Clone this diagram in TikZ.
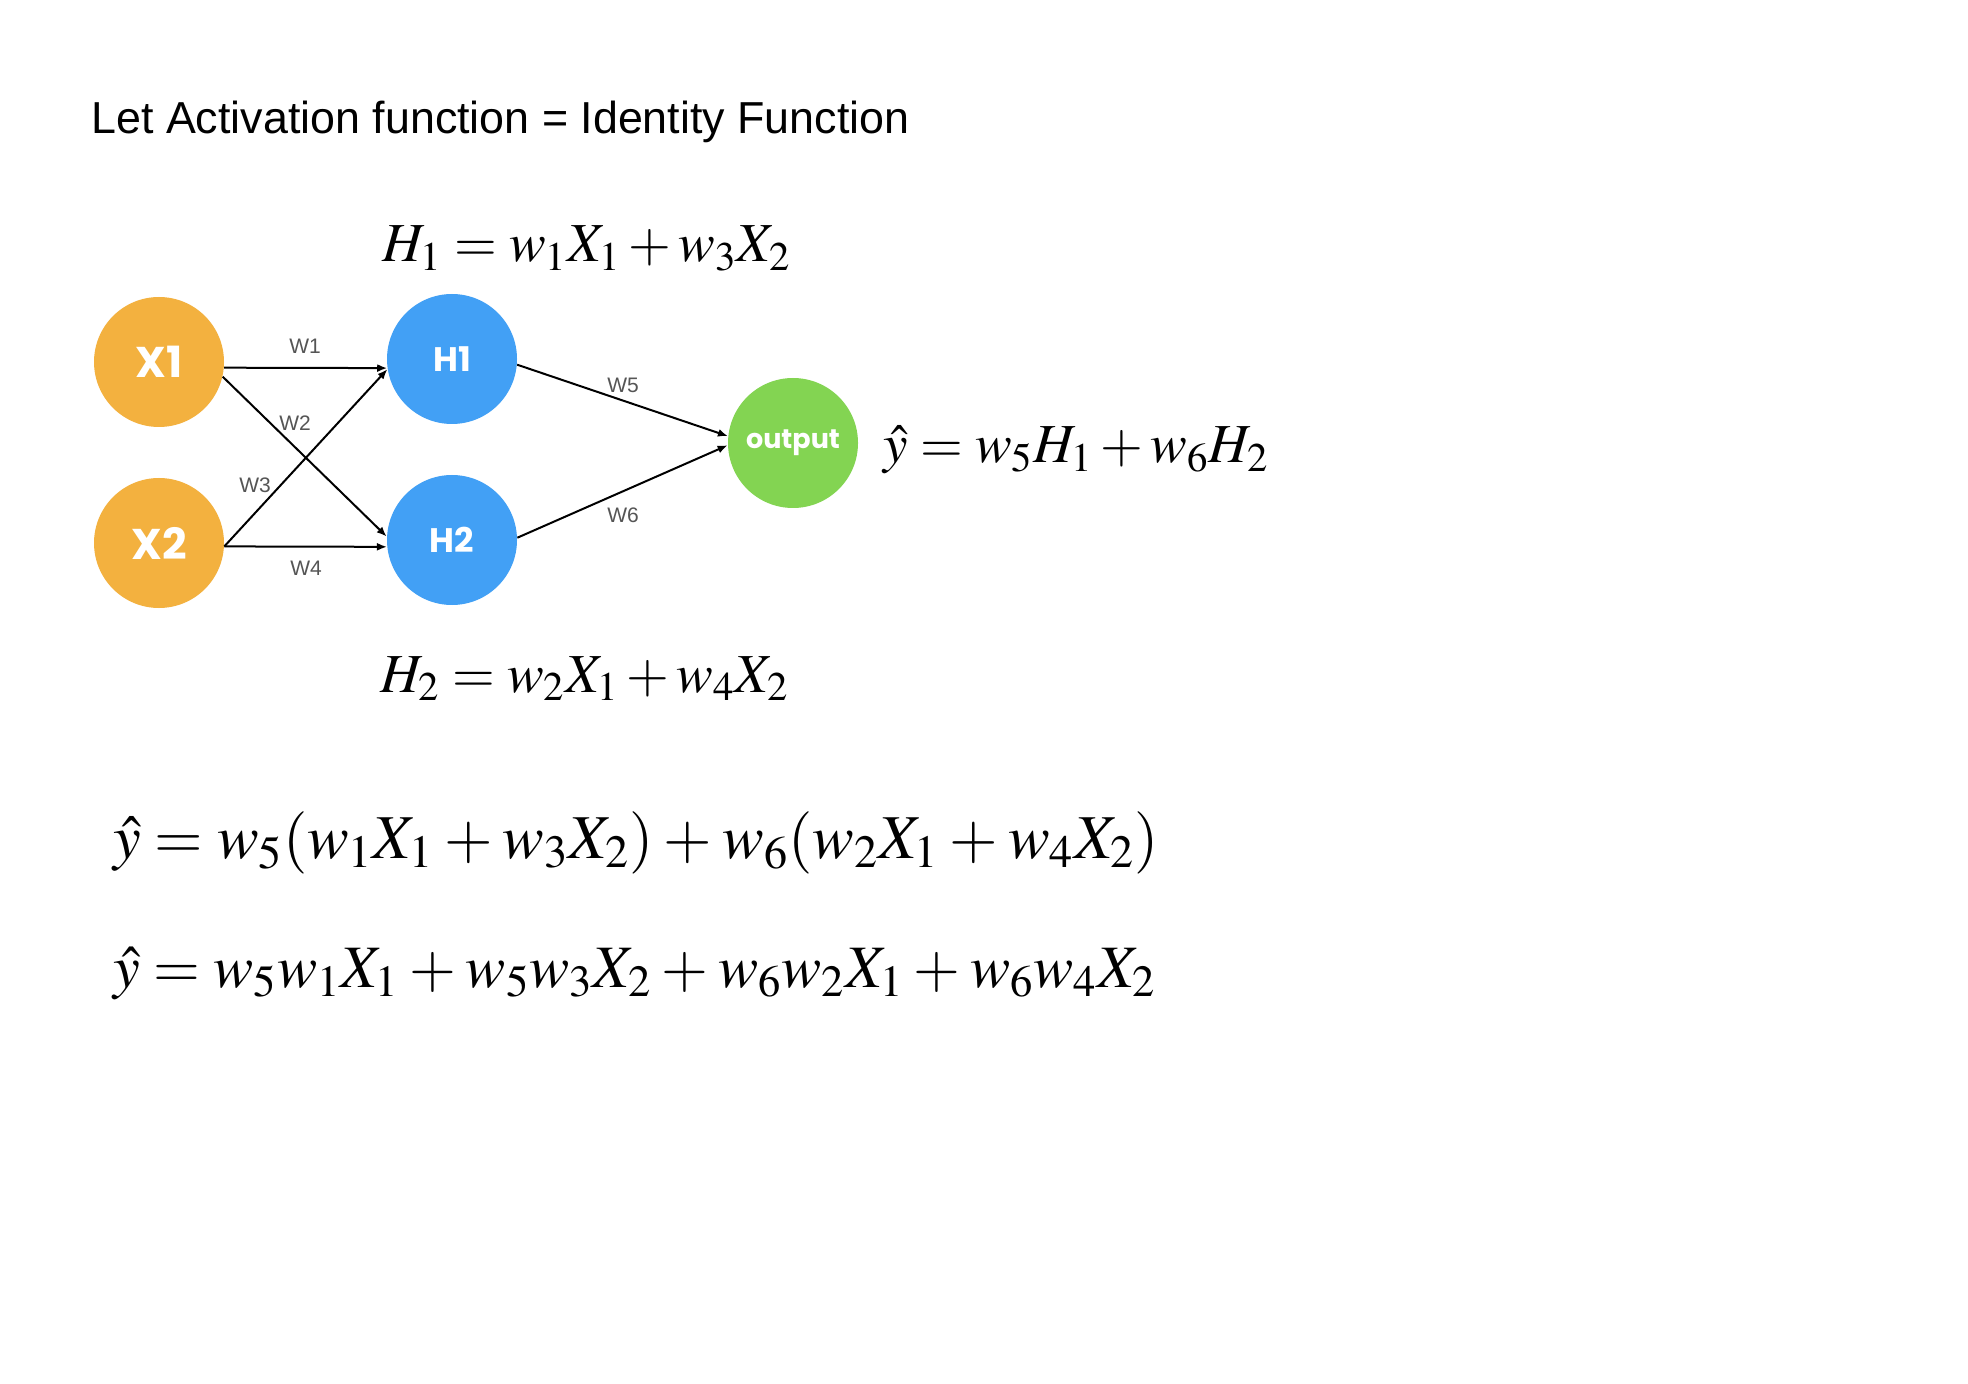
\documentclass[tikz,border=0pt]{standalone}
\usepackage{mathptmx}
\usepackage[no-math]{fontspec}
\setmainfont{Liberation Sans}
\newfontfamily\nodefont{Poppins}
\usetikzlibrary{arrows.meta}
\definecolor{inorange}{RGB}{243,177,63}
\definecolor{hidblue}{RGB}{66,160,245}
\definecolor{outgreen}{RGB}{131,212,82}
\definecolor{wgray}{RGB}{85,85,85}
\tikzset{
  neuron/.style={circle, minimum size=65pt, inner sep=0pt, text=white, font=\nodefont\bfseries},
  innode/.style={neuron, fill=inorange, font=\nodefont\bfseries\fontsize{21.5}{24}\selectfont},
  hidnode/.style={neuron, fill=hidblue, font=\nodefont\bfseries\fontsize{17}{20}\selectfont},
  outnode/.style={neuron, fill=outgreen, font=\nodefont\bfseries\fontsize{13.5}{16}\selectfont},
  conn/.style={line width=1pt, -{Latex[length=5pt,width=4pt]}},
  wlabel/.style={text=wgray, font=\fontsize{10.5}{12}\selectfont, inner sep=0pt},
  eqsmall/.style={anchor=base west, inner sep=0pt, font=\fontsize{27.5}{34}\selectfont},
  eqbig/.style={anchor=base west, inner sep=0pt, font=\fontsize{31.2}{40}\selectfont},
}
\begin{document}
\begin{tikzpicture}[x=0.5pt, y=-0.5pt]
\useasboundingbox (0,0) rectangle (1968,1384);
\fill[white] (0,0) rectangle (1968,1384);

\node[anchor=base west, inner sep=0pt, font=\fontsize{22.4}{26}\selectfont] (title) at (91,134) {Let Activation function = Identity Function};

\node[innode] (X1) at (159,362) {X1};
\node[innode] (X2) at (159,543) {X2};
\node[hidnode] (H1) at (452,359) {H1};
\node[hidnode] (H2) at (452,540) {H2};
\node[outnode] (out) at (793,443) {output};

\draw[conn] (X1.-5) -- (H1.188);
\draw[conn] (X1.-13) -- (H2.177);
\draw[conn] (X2.-3.5) -- (H1.189);
\draw[conn] (X2.-3.5) -- (H2.186);
\draw[conn] (H1.-5.5) -- (out.174.5);
\draw[conn] (H2.2) -- (out.182);

\node[wlabel] (lw1) at (305,346) {W1};
\node[wlabel] (lw2) at (295,423) {W2};
\node[wlabel] (lw3) at (255,485) {W3};
\node[wlabel] (lw4) at (306,568) {W4};
\node[wlabel] (lw5) at (623,385) {W5};
\node[wlabel] (lw6) at (623,515) {W6};

\node[eqsmall] (eqh1) at (382,262) {$H_1 = w_1X_1 + w_3X_2$};
\node[eqsmall] (eqh2) at (380,692) {$H_2 = w_2X_1 + w_4X_2$};
\node[eqsmall] (eqy) at (883,463) {$\hat{y} = w_5H_1 + w_6H_2$};

\node[eqbig] (eqa) at (113,858) {\medmuskip=3mu plus 2mu minus 2mu$\hat{y} = w_5(w_1X_1 + w_3X_2) + w_6(w_2X_1 + w_4X_2)$};
\node[eqbig, font=\fontsize{30.1}{40}\selectfont] (eqb) at (113,987) {\medmuskip=3mu plus 2mu minus 2mu$\hat{y} = w_5w_1X_1 + w_5w_3X_2 + w_6w_2X_1 + w_6w_4X_2$};
\end{tikzpicture}
\end{document}
